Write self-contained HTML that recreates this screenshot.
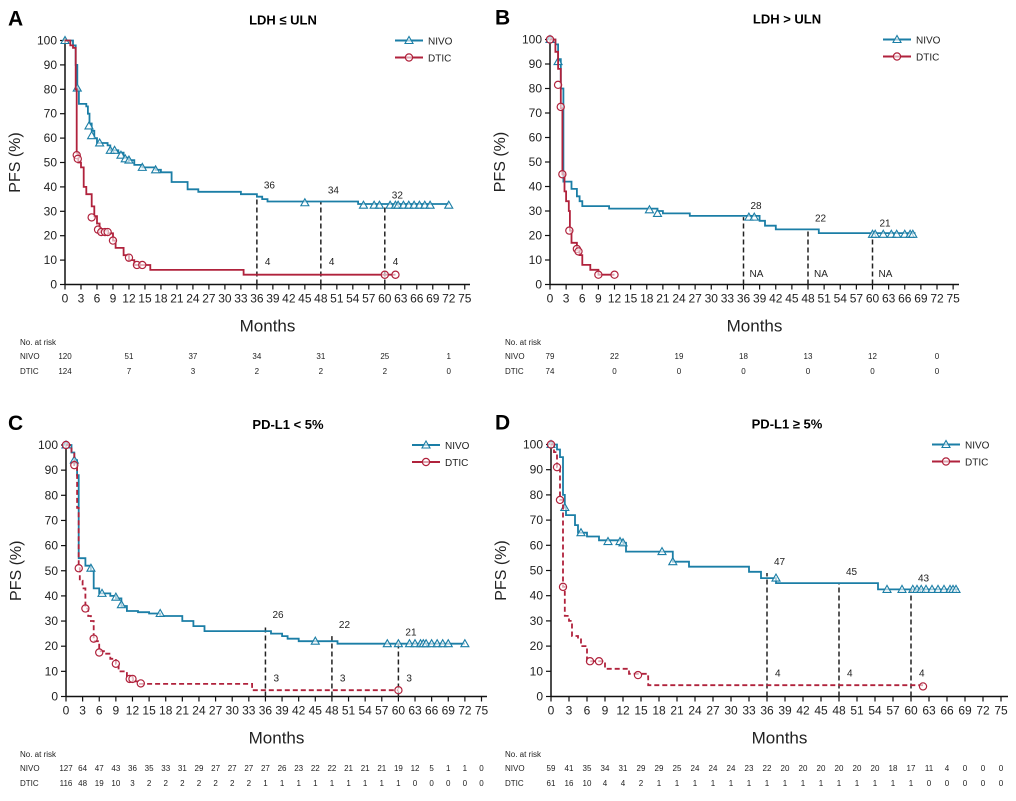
<!DOCTYPE html>
<html><head><meta charset="utf-8"><style>
html,body{margin:0;padding:0;background:#fff;}
svg{display:block;font-family:"Liberation Sans",sans-serif;}
</style></head><body>
<svg id="s" width="1016" height="801" viewBox="0 0 1016 801" xmlns="http://www.w3.org/2000/svg"></svg>
<script>
const S=document.getElementById('s');
const BL='#1b7ea6',RD='#b0223c';
let out='';
function T(x,y,t,o){o=o||{};out+=`<text x="${x}" y="${y}" font-size="${o.fs||10}" ${o.b?'font-weight="bold"':''} text-anchor="${o.a||'start'}" fill="${o.c||'#222'}" ${o.tr?`transform="${o.tr}"`:''}>${t}</text>`;}
function L(x1,y1,x2,y2,c,w,d){out+=`<line x1="${x1}" y1="${y1}" x2="${x2}" y2="${y2}" stroke="${c}" stroke-width="${w||1}" ${d?`stroke-dasharray="${d}"`:''}/>`;}
function tri(x,y,c){out+=`<polygon points="${x},${y-4} ${x-4},${y+3} ${x+4},${y+3}" fill="#fff" fill-opacity="0.6" stroke="${c}" stroke-width="1.1"/>`;}
function circ(x,y,c){out+=`<circle cx="${x}" cy="${y}" r="3.6" fill="#fff" fill-opacity="0.6" stroke="${c}" stroke-width="1.2"/>`;}
function panel(P){
 const X=m=>P.x0+m*P.dx, Y=v=>P.y0-(P.y0-P.y100)*v/100;
 // axes
 L(P.x0,P.y100-2,P.x0,P.y0,'#111',1.5);
 L(P.x0,P.y0,P.xend,P.y0,'#111',1.5);
 for(let v=0;v<=100;v+=10){L(P.x0-5,Y(v),P.x0,Y(v),'#111',1.2);T(P.x0-8,Y(v)+4,v,{fs:12,a:'end'});}
 for(let m=0;m<=75;m+=3){L(X(m),P.y0,X(m),P.y0+5,'#111',1.2);T(X(m),P.y0+18,m,{fs:12,a:'middle'});}
 T((P.x0+P.xend)/2,P.y0+47,'Months',{fs:17,a:'middle'});
 T(0,0,'PFS (%)',{fs:16,a:'middle',tr:`translate(${P.x0-45},${(P.y0+P.y100)/2}) rotate(-90)`});
 T(P.lx,P.y100-15,P.letter,{fs:21,b:1,c:'#000'});
 T(P.tx,P.y100-16,P.title,{fs:13,b:1,a:'middle',c:'#000'});
 // legend
 L(P.gx,P.y100,P.gx+28,P.y100,BL,2);tri(P.gx+14,P.y100,BL);T(P.gx+33,P.y100+4,'NIVO',{fs:10});
 L(P.gx,P.y100+17,P.gx+28,P.y100+17,RD,2);circ(P.gx+14,P.y100+17,RD);T(P.gx+33,P.y100+21,'DTIC',{fs:10});
 // landmark lines
 P.marks.forEach((mk,i)=>{const m=[36,48,60][i];L(X(m),P.y0,X(m),Y(mk[0]),'#222',1.5,'5,3');
   T(X(m)+7,Y(mk[0])-8,mk[1],{fs:10});T(X(m)+(mk[3]||8),Y(mk[2]),mk[3]?mk[4]:mk[4],{fs:10});});
 // curves
 function curve(pts,c,dash,cens,mark){
  let d=`M${X(pts[0][0])},${Y(pts[0][1])}`;
  for(let i=1;i<pts.length;i++){d+=` H${X(pts[i][0]).toFixed(1)} V${Y(pts[i][1]).toFixed(1)}`;}
  out+=`<path d="${d}" fill="none" stroke="${c}" stroke-width="1.8" ${dash?'stroke-dasharray="5,3"':''}/>`;
  cens.forEach(p=>mark(X(p[0]),Y(p[1]),c));
 }
 curve(P.nivo,BL,false,P.nc,tri);
 curve(P.dtic,RD,P.dash,P.dc,circ);
 // risk table
 const r=P.risk;
 T(P.rx,r.y,'No. at risk',{fs:8});
 T(P.rx,r.y+14,'NIVO',{fs:8});T(P.rx,r.y+29,'DTIC',{fs:8});
 r.n.forEach((v,i)=>T(X(i*r.step),r.y+14,v,{fs:8,a:'middle'}));
 r.d.forEach((v,i)=>T(X(i*r.step),r.y+29,v,{fs:8,a:'middle'}));
}
const rng=(a,b,n,v)=>{let r=[];for(let i=0;i<n;i++)r.push([a+(b-a)*i/(n-1),v]);return r;};
panel({x0:65,dx:5.33,y0:284.5,y100:40.5,xend:470,lx:8,letter:'A',tx:283,title:'LDH ≤ ULN',gx:395,rx:20,dash:false,
 marks:[[36,'36',8,0,'4'],[34,'34',8,0,'4'],[32,'32',8,0,'4']],
 nivo:[[0,100],[1,100],[1.5,98],[2,90],[2.3,80],[2.6,74],[4,73],[4.3,70],[4.6,66],[5,63],[5.5,60],[6,58],[8,57],[8.5,55],[10,54],[11,52],[12,51],[13,49],[14.5,48],[17,47],[18,46],[20,42],[23,39],[25,38],[33,37],[36,36],[37,35],[38,34],[55,33],[72,33]],
 nc:[[0,100],[2.3,80.5],[4.5,65],[5,61],[6.5,58],[8.5,55],[9.3,55],[10.5,53],[11.3,51.5],[12,51],[14.5,48],[17,47],[45,33.5],[56,32.5],[58,32.5],[59,32.5],[61,32.5],[62,32.5],[62.5,32.5],[63.5,32.5],[64.5,32.5],[65.5,32.5],[66.5,32.5],[67.5,32.5],[68.5,32.5],[72,32.5]],
 dtic:[[0,100],[1,98],[1.5,97],[2,80],[2.2,54],[2.5,50],[3,48],[3.5,40],[4,37],[5,32],[5.5,28],[6,25],[6.5,22],[8,21],[9,18],[9.5,15],[11,12],[12,10],[13,8],[16,6],[33.5,4],[62,4]],
 dc:[[2.2,53],[2.4,51.5],[5,27.5],[6.2,22.5],[6.8,21.5],[7.5,21.5],[8,21.5],[9,18],[12,11],[13.5,8],[14.5,8],[60,4],[62,4]],
 risk:{y:345,step:12,n:[120,51,37,34,31,25,1],d:[124,7,3,2,2,2,0]}});
panel({x0:550,dx:5.375,y0:284.5,y100:39.5,xend:959,lx:495,letter:'B',tx:787,title:'LDH &gt; ULN',gx:883,rx:505,dash:false,
 marks:[[27.5,'28',3,6,'NA'],[22.5,'22',3,6,'NA'],[20.5,'21',3,6,'NA']],
 nivo:[[0,100],[1,98],[1.5,92],[2,80],[2.5,42],[4,39],[5,36],[5.5,34],[6,32],[11,31],[20,30],[21,29],[26,28],[39,26],[40,24],[42,22.5],[50,21],[68,21]],
 nc:[[0,100],[1.5,91],[18.5,30.5],[20,29],[37,27.5],[38,27.5],[60,20.5],[60.5,20.5],[62,20.5],[63.5,20.5],[64.5,20.5],[66,20.5],[67,20.5],[67.5,20.5]],
 dtic:[[0,100],[1,95],[1.5,88],[2,72],[2.3,45],[2.7,38],[3,34],[3.5,30],[3.7,22],[4,17],[5,14],[5.5,12],[6,8],[7.5,6],[9,4],[12,4]],
 dc:[[0,100],[1.5,81.5],[2,72.5],[2.3,45],[3.6,22],[5,14.5],[5.3,13.5],[9,4],[12,4]],
 risk:{y:345,step:12,n:[79,22,19,18,13,12,0],d:[74,0,0,0,0,0,0]}});
panel({x0:66,dx:5.54,y0:696.5,y100:445,xend:487,lx:8,letter:'C',tx:288,title:'PD-L1 &lt; 5%',gx:412,rx:20,dash:true,
 marks:[[28,'26',6,0,'3'],[24,'22',6,0,'3'],[21,'21',6,0,'3']],
 nivo:[[0,100],[1,97],[1.5,94],[2,88],[2.3,55],[3,55],[3.5,52],[4.5,50],[5,43],[6,41],[8,40],[9,39],[10,36],[11,34],[13,33.5],[15,33],[17,32],[21,30],[23,28],[25,26],[36,26],[37,25],[39,24],[40,23],[42,22],[49,21],[72,21]],
 nc:[[0,100],[1.5,94],[4.5,51],[6.5,41],[9,39.5],[10,36.5],[17,33],[45,22],[58,21],[60,21],[62,21],[63,21],[64,21],[64.5,21],[65,21],[66,21],[67,21],[68,21],[69,21],[72,21]],
 dtic:[[0,100],[1,97],[1.5,92],[2,75],[2.3,52],[2.5,46],[3,43],[3.5,35],[4,32],[4.5,30],[5,22],[6,18],[7,17],[8,15],[9,13],[9.5,10],[11,8],[12,6],[13,5],[33.5,5],[33.6,2.5],[60,2.5]],
 dc:[[0,100],[1.5,92],[2.3,51],[3.5,35],[5,23],[6,17.5],[9,13],[11.5,7],[12,7],[13.5,5.2],[60,2.5]],
 risk:{y:757,step:3,n:[127,64,47,43,36,35,33,31,29,27,27,27,27,26,23,22,22,21,21,21,19,12,5,1,1,0],d:[116,48,19,10,3,2,2,2,2,2,2,2,1,1,1,1,1,1,1,1,1,0,0,0,0,0]}});
panel({x0:551,dx:6.0,y0:696.5,y100:444.5,xend:1008,lx:495,letter:'D',tx:787,title:'PD-L1 ≥ 5%',gx:932,rx:505,dash:true,
 marks:[[49,'47',8,0,'4'],[45,'45',8,0,'4'],[42.5,'43',8,0,'4']],
 nivo:[[0,100],[1,98],[1.5,95],[2,80],[2.3,75],[2.5,72],[3.5,72],[4,68],[4.5,65],[6,63.5],[8,62],[12,61],[12.5,57.5],[20,57.5],[20.3,53.5],[23,51.5],[33,49.5],[35,47],[37.5,45],[54,45],[54.5,42.5],[68,42.5]],
 nc:[[0,100],[2.3,75],[5,65],[9.5,61.5],[11.5,61.5],[12,61],[18.5,57.5],[20.3,53.5],[37.5,47],[56,42.5],[58.5,42.5],[60.3,42.5],[61,42.5],[61.7,42.5],[62.5,42.5],[63.5,42.5],[64.5,42.5],[65.5,42.5],[66.5,42.5],[67,42.5],[67.5,42.5]],
 dtic:[[0,100],[0.5,97],[1,91],[1.5,78],[2,43.5],[2.3,32],[3,30],[3.5,24],[4.5,23],[5,20],[6,14],[8,14],[9,11],[12,11],[13,9],[16,8],[16.2,4.5],[62,4.5]],
 dc:[[0,100],[1,91],[1.5,78],[2,43.5],[6.5,14],[8,14],[14.5,8.5],[62,4]],
 risk:{y:757,step:3,n:[59,41,35,34,31,29,29,25,24,24,24,23,22,20,20,20,20,20,20,18,17,11,4,0,0,0],d:[61,16,10,4,4,2,1,1,1,1,1,1,1,1,1,1,1,1,1,1,1,0,0,0,0,0]}});
S.innerHTML=out;
</script>
</body></html>
